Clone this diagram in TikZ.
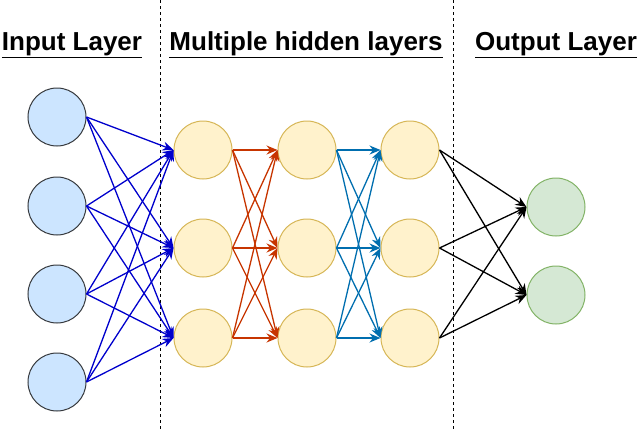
\documentclass[tikz,border=0pt]{standalone}
\usepackage{fontspec}
\setmainfont{Liberation Sans}
\usetikzlibrary{arrows.meta}
\definecolor{inF}{HTML}{CCE5FF}
\definecolor{inD}{HTML}{36393D}
\definecolor{hF}{HTML}{FFF2CC}
\definecolor{hD}{HTML}{D6B656}
\definecolor{oF}{HTML}{D5E8D4}
\definecolor{oD}{HTML}{82B366}
\definecolor{cA}{HTML}{0000CC}
\definecolor{cB}{HTML}{C73500}
\definecolor{cC}{HTML}{006EAF}
\begin{document}
\begin{tikzpicture}[x=1pt,y=-1pt,
  neu/.style={circle,minimum size=58pt,inner sep=0pt,line width=1pt},
  inn/.style={neu,fill=inF,draw=inD},
  hid/.style={neu,fill=hF,draw=hD},
  outn/.style={neu,fill=oF,draw=oD},
  con/.style={line width=1.3pt,-{Stealth[length=11pt,width=9pt]}},
  ttl/.style={font=\fontsize{26}{30}\selectfont\bfseries,inner sep=0pt}]
\useasboundingbox (0,0) rectangle (640,429);
\draw[dashed,line width=0.8pt] (160,0) -- (160,429);
\draw[dashed,line width=0.8pt] (453,0) -- (453,429);
\node[ttl] (t1) at (72,45) {\underline{Input Layer}};
\node[ttl] (t2) at (306,45) {\underline{Multiple hidden layers}};
\node[ttl] (t3) at (556,45) {\underline{Output Layer}};
\foreach \i/\y in {1/117,2/206,3/294,4/382} \node[inn] (i\i) at (57,\y) {};
\foreach \i/\y in {1/150,2/248,3/338} {
  \node[hid] (a\i) at (203,\y) {};
  \node[hid] (b\i) at (307,\y) {};
  \node[hid] (c\i) at (410,\y) {};
}
\foreach \i/\y in {1/207,2/295} \node[outn] (o\i) at (556,\y) {};
\foreach \s in {1,2,3,4} \foreach \t in {1,2,3} \draw[con,cA] (i\s.east) -- (a\t.west);
\foreach \s in {1,2,3} \foreach \t in {1,2,3} {
  \draw[con,cB] (a\s.east) -- (b\t.west);
  \draw[con,cC] (b\s.east) -- (c\t.west);
}
\foreach \s in {1,2,3} \foreach \t in {1,2} \draw[con,black] (c\s.east) -- (o\t.west);
\end{tikzpicture}
\end{document}
